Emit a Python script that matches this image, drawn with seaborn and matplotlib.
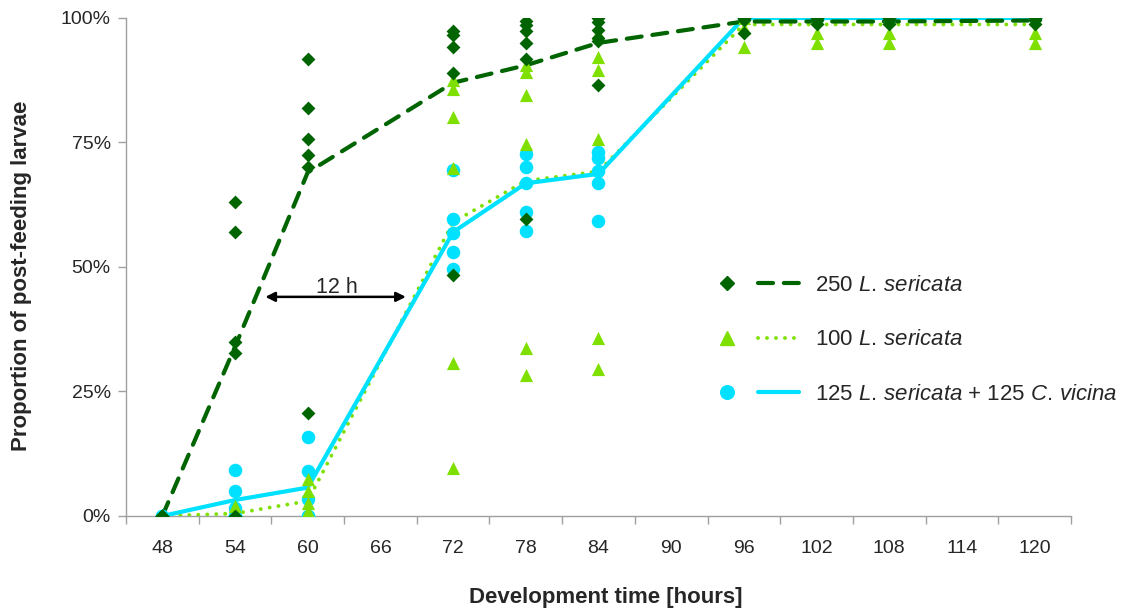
import matplotlib
matplotlib.use("Agg")
import matplotlib.pyplot as plt
from matplotlib.lines import Line2D
from matplotlib.legend_handler import HandlerTuple
from matplotlib.ticker import FixedLocator, PercentFormatter
import seaborn as sns
import pandas as pd

sns.set_theme(style="white")
plt.rcParams['font.family'] = ['Liberation Sans', 'DejaVu Sans']
plt.rcParams['mathtext.fontset'] = 'custom'
plt.rcParams['mathtext.rm'] = 'Liberation Sans'
plt.rcParams['mathtext.it'] = 'Liberation Sans:italic'

# sampling times (hours)
times = [48, 54, 60, 72, 78, 84, 96, 102, 108, 120]

# replicate proportions (%) per sampling time
reps_250 = [
    [0, 0, 0, 0, 0],
    [63.1, 57.1, 35.0, 32.8, 0],
    [91.8, 82.0, 75.8, 72.4, 70.0, 20.6],
    [97.3, 96.6, 94.2, 89.0, 48.3],
    [99.4, 98.6, 97.3, 94.9, 91.7, 59.6],
    [99.9, 99.1, 97.6, 95.9, 95.3, 86.5],
    [100, 100, 99.5, 96.9],
    [100, 100, 99.5, 98.8],
    [100, 100, 99.5, 98.8],
    [100, 100, 99.5, 98.8],
]
reps_100 = [
    [0, 0, 0],
    [2, 0, 0, 0],
    [7.4, 5, 2.7, 1, 0, 0],
    [87.6, 85.7, 80.2, 69.8, 30.7, 9.6],
    [90.6, 89.2, 84.5, 74.7, 33.7, 28.3],
    [97, 92.2, 89.6, 75.8, 35.7, 29.5],
    [100, 98, 94.2],
    [100, 97, 95],
    [100, 97, 95],
    [100, 97, 95],
]
reps_mix = [
    [0, 0],
    [9.3, 5.1, 1.7, 0, 0],
    [15.9, 9.1, 3.5, 0, 0],
    [69.5, 59.6, 56.8, 53.1, 49.5],
    [72.7, 70.1, 66.9, 61.1, 57.3],
    [73, 71.8, 69.2, 66.8, 59.3],
    [100],
    [100],
    [100],
    [100],
]

# mean curves (%)
mean_250 = [0, 34, 69, 87, 90.5, 95, 99.3, 99.3, 99.3, 99.5]
mean_100 = [0, 0.5, 3, 59, 67.3, 69.2, 98.7, 98.7, 98.7, 98.7]
mean_mix = [0, 3.2, 5.7, 57, 66.8, 68.7, 100, 100, 100, 100]

tick_hours = list(range(48, 121, 6))

labels = ["250 $\\mathit{L.\\,sericata}$",
          "100 $\\mathit{L.\\,sericata}$",
          "125 $\\mathit{L.\\,sericata}$ + 125 $\\mathit{C.\\,vicina}$"]

c_dark = "#006400"
c_lime = "#7FE000"
c_cyan = "#00E0FF"


def long_form(reps):
    rows = [(t, v) for t, vals in zip(times, reps) for v in vals]
    return pd.DataFrame(rows, columns=["time", "prop"])


pts_250 = long_form(reps_250)
pts_100 = long_form(reps_100)
pts_mix = long_form(reps_mix)
means = pd.DataFrame({"time": times, "m250": mean_250, "m100": mean_100, "mmix": mean_mix})

fig, ax = plt.subplots(figsize=(11.22, 6.12), dpi=100)
fig.subplots_adjust(left=0.1123, right=0.9545, top=0.9706, bottom=0.1569)

# mean lines
sns.lineplot(data=means, x="time", y="m100", ax=ax, color=c_lime, linewidth=2.8,
             linestyle=(0, (0.01, 2.3)), dash_capstyle="round", errorbar=None, zorder=2)
sns.lineplot(data=means, x="time", y="mmix", ax=ax, color=c_cyan, linewidth=3,
             errorbar=None, zorder=3)
sns.lineplot(data=means, x="time", y="m250", ax=ax, color=c_dark, linewidth=3,
             linestyle=(0, (3.6, 2.6)), dash_capstyle="round", errorbar=None, zorder=3)

# replicate points
sns.scatterplot(data=pts_mix, x="time", y="prop", ax=ax, marker="o", s=95,
                color=c_cyan, linewidth=0, zorder=4)
sns.scatterplot(data=pts_100, x="time", y="prop", ax=ax, marker="^", s=90,
                color=c_lime, linewidth=0, zorder=5)
sns.scatterplot(data=pts_250, x="time", y="prop", ax=ax, marker="D", s=50,
                color=c_dark, linewidth=0, zorder=6)

# 12 h shift annotation
ax.annotate("", xy=(56.5, 44), xytext=(68.1, 44),
            arrowprops=dict(arrowstyle="<|-|>", color="black", lw=1.8,
                            mutation_scale=14, shrinkA=0, shrinkB=0))
ax.text(62.4, 45.8, "12 h", ha="center", va="center", fontsize=15.5)

ax.set_xlim(45, 123)
ax.set_ylim(0, 100)
ax.xaxis.set_major_locator(FixedLocator(tick_hours))
ax.xaxis.set_minor_locator(FixedLocator([h - 3 for h in tick_hours] + [123]))
ax.yaxis.set_major_locator(FixedLocator([0, 25, 50, 75, 100]))
ax.yaxis.set_major_formatter(PercentFormatter(decimals=0))
ax.tick_params(axis="x", which="major", length=0, pad=17, labelsize=14)
ax.tick_params(axis="x", which="minor", bottom=True, length=6, width=1, color="#A0A0A0")
ax.tick_params(axis="y", which="major", left=True, length=6, width=1, color="#A0A0A0",
               pad=5, labelsize=14)

for side in ["top", "right"]:
    ax.spines[side].set_visible(False)
for side in ["left", "bottom"]:
    ax.spines[side].set_color("#A0A0A0")
    ax.spines[side].set_linewidth(1)
    ax.spines[side].set_zorder(1)

ax.set_xlabel("Development time [hours]", fontsize=16, fontweight="bold")
ax.set_ylabel("Proportion of post-feeding larvae", fontsize=16, fontweight="bold")
ax.xaxis.set_label_coords(0.508, -0.142)
ax.yaxis.set_label_coords(-0.1, 0.482)

handles = [
    (Line2D([], [], marker="D", markersize=7, color=c_dark, linestyle="none"),
     Line2D([], [], color=c_dark, linewidth=3, linestyle=(0, (3.6, 2.6)), dash_capstyle="round")),
    (Line2D([], [], marker="^", markersize=9.5, color=c_lime, linestyle="none"),
     Line2D([], [], color=c_lime, linewidth=2.8, linestyle=(0, (0.01, 2.3)), dash_capstyle="round")),
    (Line2D([], [], marker="o", markersize=9.8, color=c_cyan, linestyle="none"),
     Line2D([], [], color=c_cyan, linewidth=3)),
]
ax.legend(handles, labels, handler_map={tuple: HandlerTuple(ndivide=None, pad=0.45)},
          loc="upper left", bbox_to_anchor=(706 / 1122, 1 - 275 / 612),
          bbox_transform=fig.transFigure, frameon=False, fontsize=16,
          handlelength=4.2, handletextpad=0.7, labelspacing=1.5, borderaxespad=0,
          borderpad=0)

fig.savefig("out.png", dpi=100)
